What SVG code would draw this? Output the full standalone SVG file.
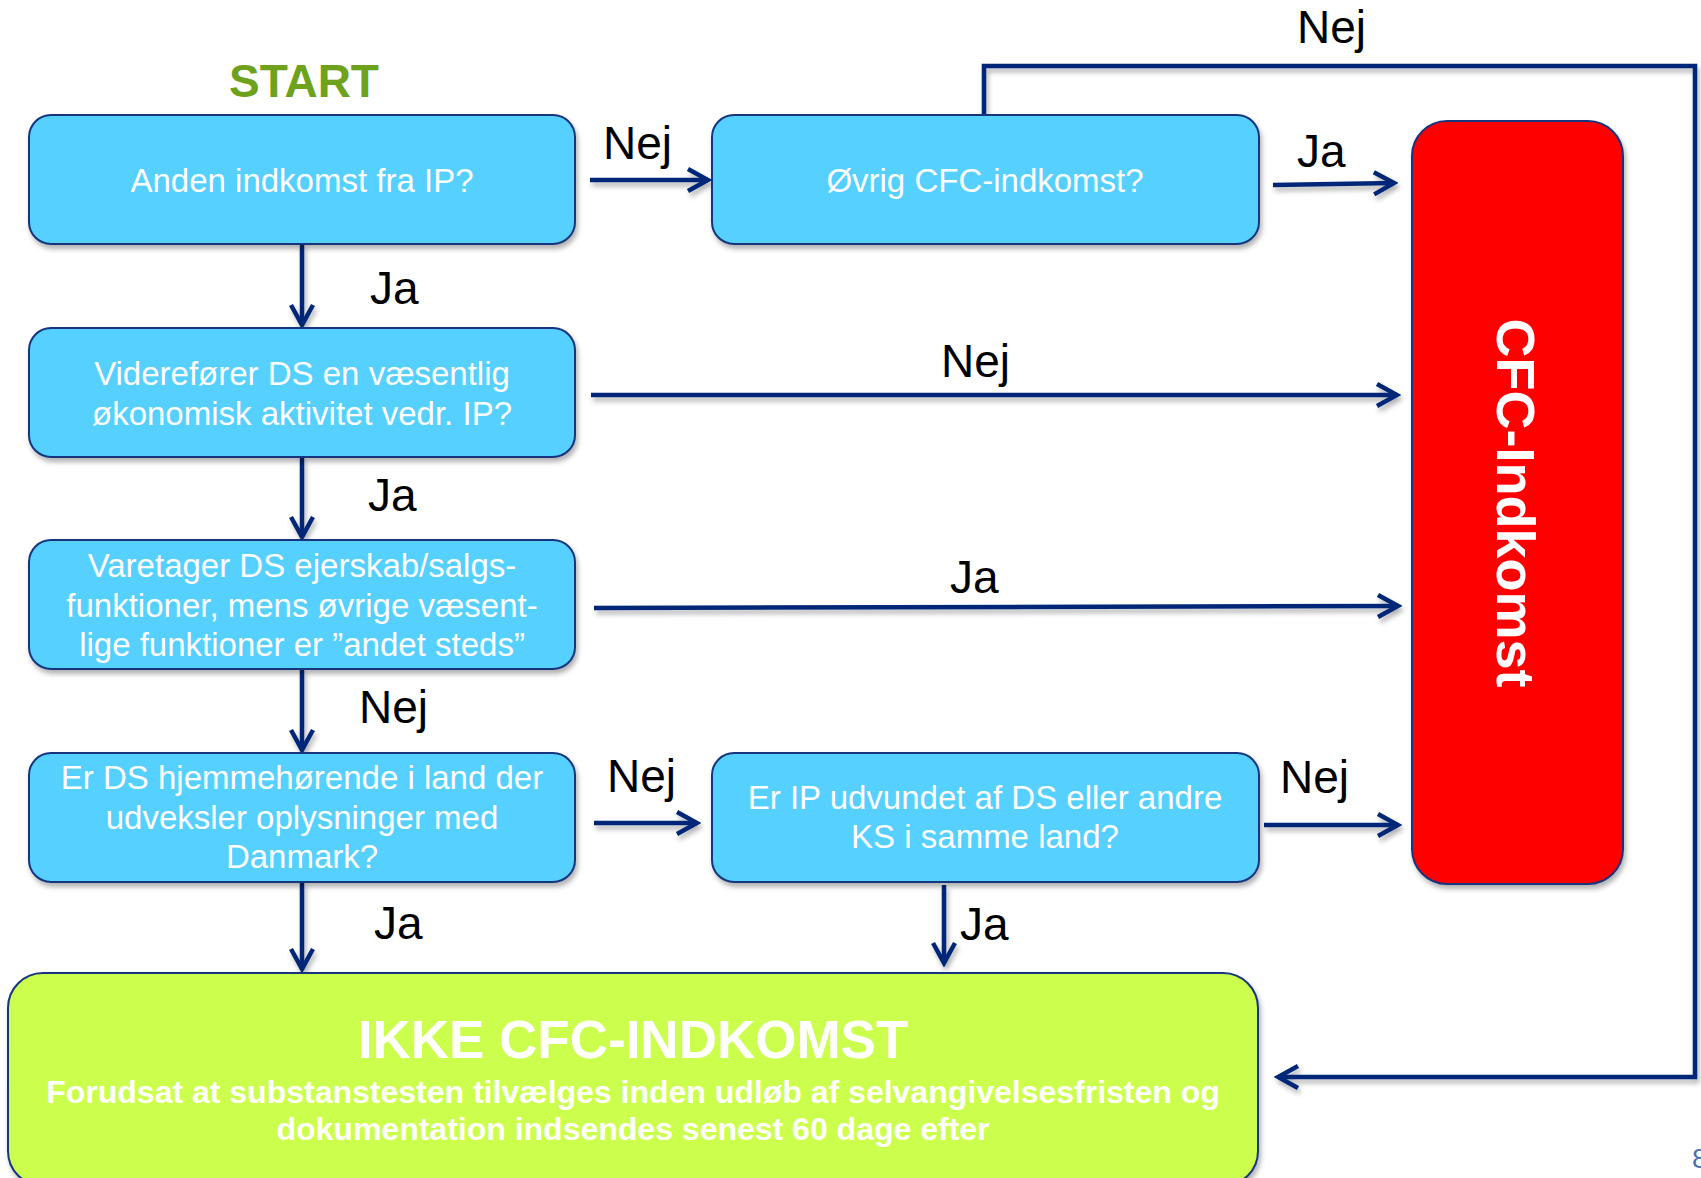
<svg xmlns="http://www.w3.org/2000/svg" width="1701" height="1178" viewBox="0 0 1701 1178">
<defs>
<filter id="sh" x="-10%" y="-10%" width="120%" height="130%">
<feDropShadow dx="2" dy="4" stdDeviation="2.5" flood-color="#000" flood-opacity="0.3"/>
</filter>
<marker id="ah" markerUnits="userSpaceOnUse" viewBox="-26 -16 30 32" refX="0" refY="0" markerWidth="30" markerHeight="32" orient="auto">
<path d="M-20,-11 L0,0 L-20,11" fill="none" stroke="#002878" stroke-width="4.5" stroke-linejoin="miter"/>
</marker>
<style>
.q{fill:#55D0FF;stroke:#17367E;stroke-width:2}
.qt{font-family:"Liberation Sans",Arial,sans-serif;font-size:33px;fill:#fff;text-anchor:middle}
.lb{font-family:"Liberation Sans",Arial,sans-serif;font-size:46px;fill:#000}
.c{fill:none;stroke:#002878;stroke-width:4.5;marker-end:url(#ah)}
.cn{fill:none;stroke:#002878;stroke-width:4.5}
</style>
</defs>
<rect width="1701" height="1178" fill="#fff"/>

<text x="304" y="97" font-family="Liberation Sans,Arial,sans-serif" font-size="46" font-weight="bold" fill="#6EA11C" text-anchor="middle">START</text>

<g id="connectors" filter="url(#sh)">
<line class="c" x1="590" y1="180" x2="708" y2="180"/>
<line class="c" x1="302" y1="244" x2="302" y2="325"/>
<polyline class="c" points="984,115 984,66 1695,66 1695,1077 1278,1077"/>
<line class="c" x1="1273" y1="185" x2="1394" y2="183"/>
<line class="c" x1="591" y1="395" x2="1397" y2="395"/>
<line class="c" x1="302" y1="457" x2="302" y2="537"/>
<line class="c" x1="594" y1="608" x2="1398" y2="606"/>
<line class="c" x1="302" y1="669" x2="302" y2="750"/>
<line class="c" x1="594" y1="823" x2="697" y2="823"/>
<line class="c" x1="1264" y1="825" x2="1398" y2="825"/>
<line class="c" x1="302" y1="882" x2="302" y2="969"/>
<line class="c" x1="944" y1="885" x2="944" y2="963"/>
</g>

<g id="labels">
<text class="lb" x="603" y="159">Nej</text>
<text class="lb" x="370" y="304">Ja</text>
<text class="lb" x="1297" y="43">Nej</text>
<text class="lb" x="1297" y="167">Ja</text>
<text class="lb" x="941" y="377">Nej</text>
<text class="lb" x="368" y="511">Ja</text>
<text class="lb" x="950" y="593">Ja</text>
<text class="lb" x="359" y="723">Nej</text>
<text class="lb" x="607" y="792">Nej</text>
<text class="lb" x="1280" y="793">Nej</text>
<text class="lb" x="374" y="939">Ja</text>
<text class="lb" x="960" y="940">Ja</text>
</g>

<g id="n1">
<rect class="q" x="29" y="115" width="546" height="129" rx="22" filter="url(#sh)"/>
<text class="qt" x="302" y="192">Anden indkomst fra IP?</text>
</g>
<g id="n2">
<rect class="q" x="712" y="115" width="547" height="129" rx="22" filter="url(#sh)"/>
<text class="qt" x="985" y="192">Øvrig CFC-indkomst?</text>
</g>
<g id="n3">
<rect class="q" x="29" y="328" width="546" height="129" rx="22" filter="url(#sh)"/>
<text class="qt" x="302" y="385">Viderefører DS en væsentlig</text>
<text class="qt" x="302" y="425">økonomisk aktivitet vedr. IP?</text>
</g>
<g id="n4">
<rect class="q" x="29" y="540" width="546" height="129" rx="22" filter="url(#sh)"/>
<text class="qt" x="302" y="577">Varetager DS ejerskab/salgs-</text>
<text class="qt" x="302" y="617">funktioner, mens øvrige væsent-</text>
<text class="qt" x="302" y="656">lige funktioner er ”andet steds”</text>
</g>
<g id="n5">
<rect class="q" x="29" y="753" width="546" height="129" rx="22" filter="url(#sh)"/>
<text class="qt" x="302" y="789">Er DS hjemmehørende i land der</text>
<text class="qt" x="302" y="829">udveksler oplysninger med</text>
<text class="qt" x="302" y="868">Danmark?</text>
</g>
<g id="n6">
<rect class="q" x="712" y="753" width="547" height="129" rx="22" filter="url(#sh)"/>
<text class="qt" x="985" y="809">Er IP udvundet af DS eller andre</text>
<text class="qt" x="985" y="848">KS i samme land?</text>
</g>
<g id="cfc">
<rect x="1412" y="121" width="211" height="763" rx="35" fill="#FF0000" stroke="#17367E" stroke-width="2" filter="url(#sh)"/>
<text transform="translate(1497,503) rotate(90)" font-family="Liberation Sans,Arial,sans-serif" font-size="54" font-weight="bold" fill="#fff" text-anchor="middle">CFC-Indkomst</text>
</g>
<g id="ikke">
<rect x="8" y="973" width="1250" height="213" rx="35" fill="#CCFF4D" stroke="#17367E" stroke-width="2" filter="url(#sh)"/>
<text x="633" y="1058" font-family="Liberation Sans,Arial,sans-serif" font-size="53" font-weight="bold" fill="#fff" text-anchor="middle">IKKE CFC-INDKOMST</text>
<text x="633" y="1103" font-family="Liberation Sans,Arial,sans-serif" font-size="32" font-weight="bold" fill="#fff" text-anchor="middle">Forudsat at substanstesten tilvælges inden udløb af selvangivelsesfristen og</text>
<text x="633" y="1140" font-family="Liberation Sans,Arial,sans-serif" font-size="32" font-weight="bold" fill="#fff" text-anchor="middle">dokumentation indsendes senest 60 dage efter</text>
</g>
<text x="1692" y="1168" font-family="Liberation Sans,Arial,sans-serif" font-size="28" fill="#4F6FAE">8</text>
</svg>
